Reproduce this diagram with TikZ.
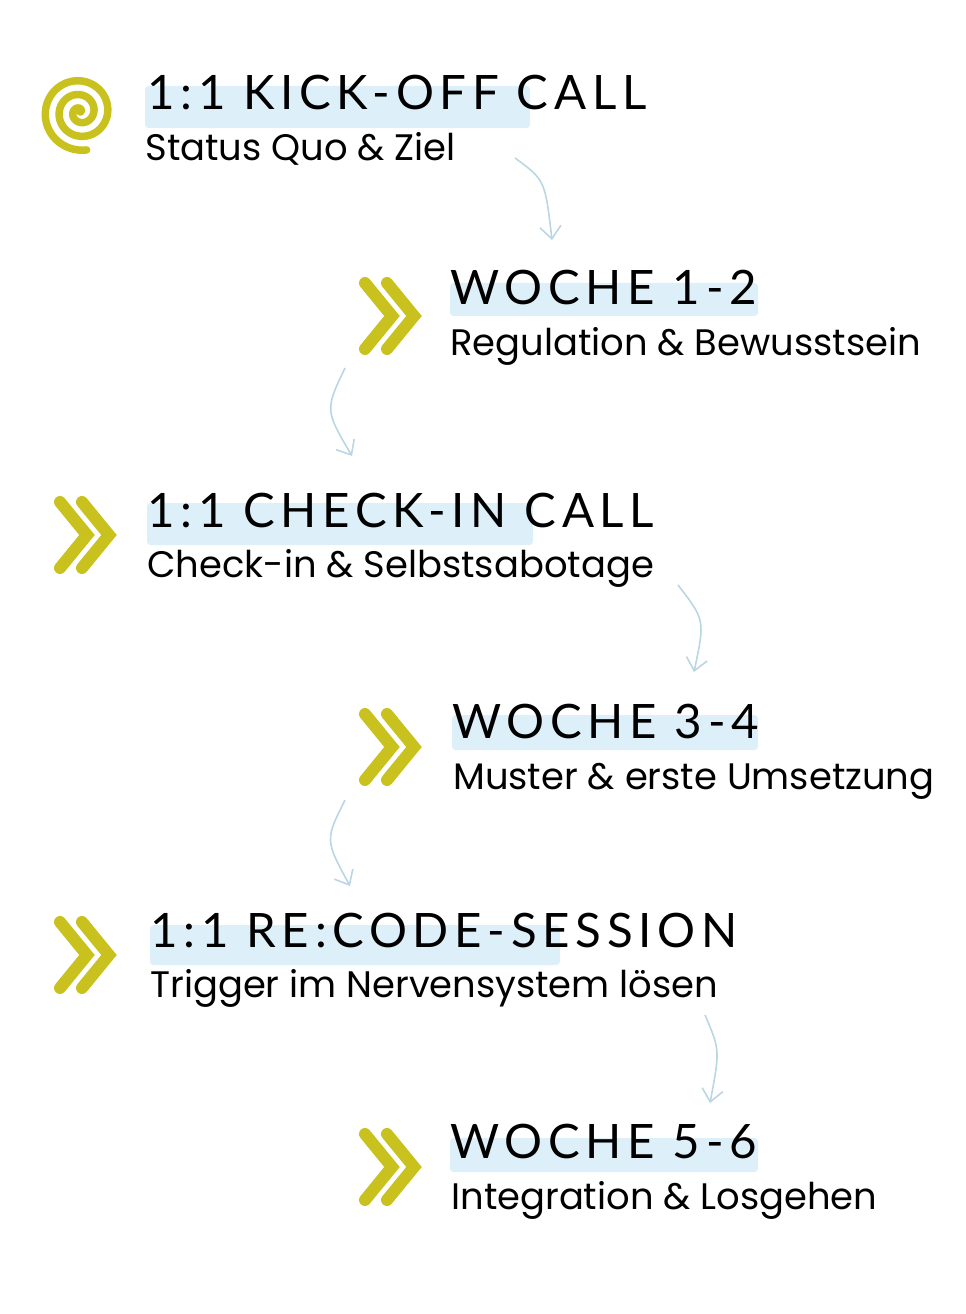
\documentclass[tikz,border=0pt]{standalone}
\usepackage{fontspec}
\setmainfont{Poppins}
\newfontfamily\titlefont[LetterSpace=12]{Lato}
\usetikzlibrary{positioning,arrows.meta}
\definecolor{olive}{HTML}{C9C21E}
\definecolor{wash}{HTML}{DDEFF9}
\definecolor{hint}{HTML}{B9D6E2}
\tikzset{
  phase/.style={anchor=base west, inner sep=0pt, font=\titlefont\fontsize{27}{27}\selectfont},
  phasesub/.style={anchor=base west, inner sep=0pt, font=\fontsize{21}{21}\selectfont},
  washbar/.style={fill=wash, rounded corners=2pt},
  chev/.style={draw=olive, line width=0.24cm, line cap=round, line join=miter},
  flow/.style={draw=hint, line width=0.9pt, -{Straight Barb[length=7pt,width=12pt]}}
}
\newcommand{\chevrons}[2]{%
  \draw[chev] (#1-30,#2-33) -- (#1-3,#2) -- (#1-30,#2+33);
  \draw[chev] (#1-8,#2-33) -- (#1+19,#2) -- (#1-8,#2+33);}
\begin{document}
\begin{tikzpicture}[x=0.02cm,y=-0.02cm]
  \useasboundingbox (0,0) rectangle (966,1314);
  % kick-off
  \draw[olive, line width=0.15cm, line cap=round]
    plot[domain=0:1000, samples=250, smooth] ({80+0.0385*\x*cos(\x)},{112-0.0385*\x*sin(\x)});
  \fill[washbar] (145,86) rectangle (530,128);
  \node[phase] (kick) at (147,110) {1:1 KICK-OFF CALL};
  \node[phasesub] (kicksub) at (145,161) {Status Quo \& Ziel};
  % week 1-2
  \chevrons{395}{316}
  \fill[washbar] (450,283) rectangle (758,316);
  \node[phase] (w12) at (450,305) {WOCHE 1-2};
  \node[phasesub] (w12sub) at (450,356) {Regulation \& Bewusstsein};
  % check-in
  \chevrons{90}{535}
  \fill[washbar] (147,503) rectangle (533,545);
  \node[phase] (check) at (147,527) {1:1 CHECK-IN CALL};
  \node[phasesub] (checksub) at (147,577) {Check-in \& Selbstsabotage};
  % week 3-4
  \chevrons{395}{747}
  \fill[washbar] (452,715) rectangle (758,750);
  \node[phase] (w34) at (452,738) {WOCHE 3-4};
  \node[phasesub] (w34sub) at (453,789) {Muster \& erste Umsetzung};
  % recode
  \chevrons{90}{955}
  \fill[washbar] (150,925) rectangle (560,965);
  \node[phase] (recode) at (150,947) {1:1 RE:CODE-SESSION};
  \node[phasesub] (recodesub) at (150,997) {Trigger im Nervensystem lösen};
  % week 5-6
  \chevrons{395}{1167}
  \fill[washbar] (450,1138) rectangle (758,1172);
  \node[phase] (w56) at (450,1158) {WOCHE 5-6};
  \node[phasesub] (w56sub) at (451,1209) {Integration \& Losgehen};
  % connectors
  \coordinate (a1) at (515,158); \coordinate (b1) at (552,240);
  \coordinate (a2) at (345,368); \coordinate (b2) at (352,456);
  \coordinate (a3) at (678,585); \coordinate (b3) at (694,672);
  \coordinate (a4) at (345,800); \coordinate (b4) at (350,886);
  \coordinate (a5) at (705,1015); \coordinate (b5) at (710,1103);
  \draw[flow] (a1) .. controls (545,180) .. (b1);
  \draw[flow] (a2) .. controls (325,410) .. (b2);
  \draw[flow] (a3) .. controls (705,620) .. (b3);
  \draw[flow] (a4) .. controls (325,840) .. (b4);
  \draw[flow] (a5) .. controls (720,1050) .. (b5);
\end{tikzpicture}
\end{document}
